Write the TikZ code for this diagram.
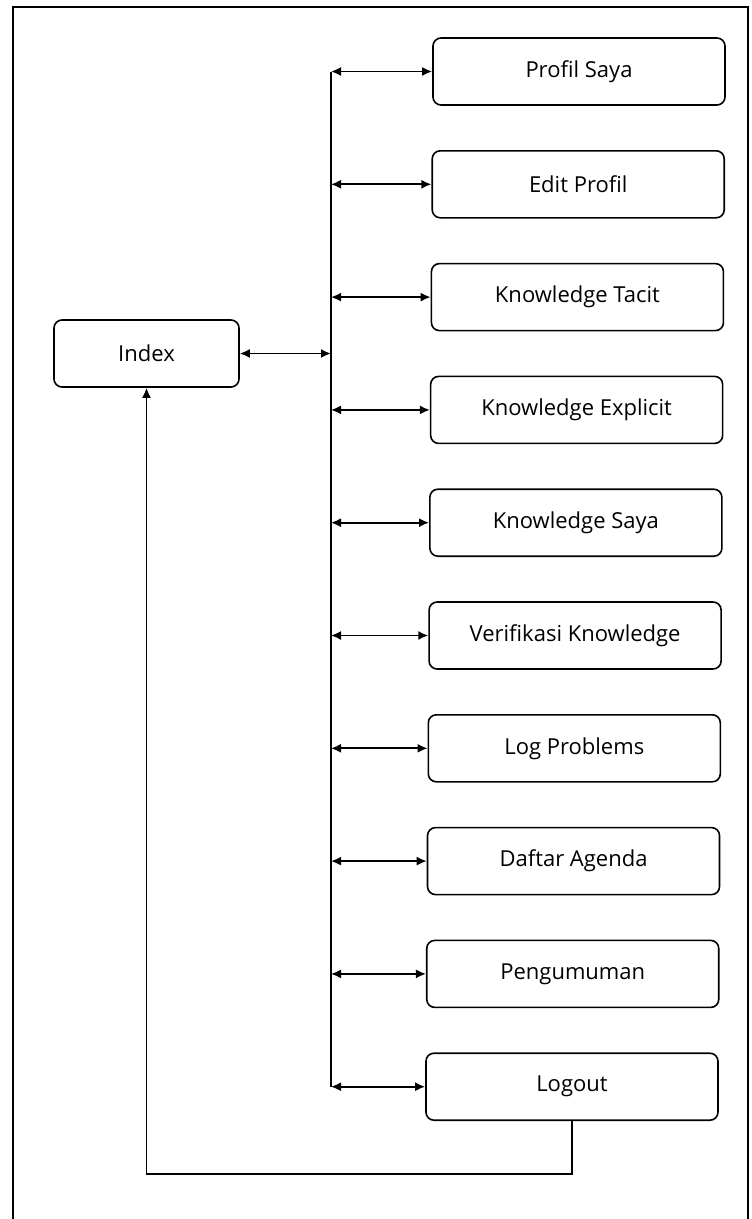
\documentclass[tikz,border=0pt]{standalone}
\usepackage{fontspec}
\setmainfont{Open Sans}
\usetikzlibrary{arrows.meta, calc}

\tikzset{
    menubox/.style={draw, line width=1.6pt, rounded corners=8pt, minimum width=292pt, minimum height=67pt, inner sep=0pt, font=\fontsize{22}{26}\selectfont},
    link/.style={line width=1.7pt},
    >={Latex[length=10pt, width=9pt]}
}

\begin{document}
\begin{tikzpicture}[x=1pt, y=-1pt]
        \useasboundingbox (0, 0) rectangle (752, 1219);
        % frame
        \draw[line width=1.6pt] (13, 1219) -- (13, 7) -- (748, 7) -- (748, 1219);

        \node[menubox, minimum width=185pt] (index) at (146.5, 353.5) {Index};

        \coordinate (spinetop) at (331, 72);
        \coordinate (spine) at (331, 353.5);
        \coordinate (spinebot) at (331, 1087);
        \draw[link] (spinetop) -- (spinebot);

        \foreach \label [count=\i from 0] in {Profil Saya, Edit Profil, Knowledge Tacit, Knowledge Explicit, Knowledge Saya, Verifikasi Knowledge, Log Problems, Daftar Agenda, Pengumuman, Logout}
        {
            \node[menubox] (m\i) at ({579 - 0.78*\i}, {71.5 + 112.8*\i}) {\label};
            \draw[link, <->] (m\i.west -| spine) -- (m\i.west);
        }

        \draw[link, <->] (index.east) -- (index.east -| spine);
        \draw[link, ->] (m9.south) -- ++(0, 53) -| (index.south);
    \end{tikzpicture}
\end{document}
